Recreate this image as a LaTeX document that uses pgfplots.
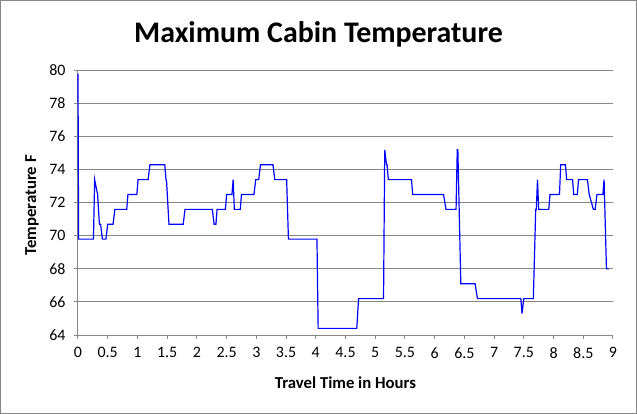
\documentclass[border=0pt]{standalone}
\usepackage{fontspec}
\setmainfont{Carlito}
\usepackage{pgfplots}
\pgfplotsset{compat=1.18}
\definecolor{gridgray}{RGB}{134,134,134}
\definecolor{lineblue}{RGB}{0,0,255}
\begin{document}
\begin{tikzpicture}
\begin{axis}[
  scale only axis,
  width=535bp, height=264.5bp,
  at={(0,0)}, anchor=south west,
  xmin=0, xmax=9, ymin=64, ymax=80,
  xtick={0,0.5,...,9}, ytick={64,66,...,80},
  axis x line*=bottom, axis y line*=left,
  axis line style={gridgray, line width=1bp},
  ymajorgrids, grid style={gridgray, line width=1bp},
  tick align=outside, major tick length=4bp,
  tick style={gridgray, line width=1bp},
  /pgf/number format/assume math mode=true,
  ticklabel style={font=\fontsize{16}{18}\selectfont, text=black},
  xticklabel style={yshift=-5bp},
  yticklabel style={xshift=-5bp},
  xlabel={\textbf{Travel Time in Hours}},
  ylabel={\textbf{Temperature F}},
  label style={font=\fontsize{16.8}{19}\selectfont},
  xlabel style={at={(axis description cs:0.5,-0.181)}, anchor=center},
  ylabel style={at={(axis description cs:-0.086,0.49)}, anchor=center, rotate=0},
  clip=false,
]
\addplot[lineblue, line width=1.2bp] coordinates {
(0,79.8) (0.01,69.8) (0.26,69.8) (0.28,73.4) (0.33,72.5) (0.36,70.7)
(0.38,70.7) (0.41,69.8) (0.47,69.8) (0.50,70.7) (0.59,70.7) (0.62,71.6)
(0.82,71.6) (0.84,72.5) (0.99,72.5) (1.01,73.4) (1.18,73.4) (1.21,74.3)
(1.46,74.3) (1.48,73.4) (1.49,73.3) (1.53,70.7) (1.77,70.7) (1.80,71.6)
(2.26,71.6) (2.29,70.7) (2.32,70.7) (2.34,71.6) (2.48,71.6) (2.50,72.5)
(2.59,72.5) (2.61,73.4) (2.63,71.6) (2.73,71.6) (2.75,72.5) (2.96,72.5)
(2.99,73.4) (3.04,73.4) (3.07,74.3) (3.28,74.3) (3.31,73.4) (3.51,73.4)
(3.54,69.8) (4.02,69.8) (4.04,64.4) (4.69,64.4) (4.72,66.2) (5.14,66.2)
(5.16,75.2) (5.19,74.3) (5.20,74.3) (5.22,73.4) (5.61,73.4) (5.63,72.5)
(6.15,72.5) (6.19,71.6) (6.36,71.6) (6.38,75.2) (6.39,75.2) (6.44,67.1)
(6.68,67.1) (6.72,66.2) (7.45,66.2) (7.47,65.3) (7.50,66.2) (7.66,66.2)
(7.70,71.6) (7.71,71.6) (7.73,73.4) (7.75,71.6) (7.92,71.6) (7.94,72.5)
(8.10,72.5) (8.12,74.3) (8.20,74.3) (8.22,73.4) (8.32,73.4) (8.34,72.5)
(8.40,72.5) (8.42,73.4) (8.57,73.4) (8.60,72.5) (8.67,71.6) (8.70,71.6)
(8.73,72.5) (8.83,72.5) (8.85,73.4) (8.89,68.0) (8.93,68.0)
};
\end{axis}
\node[font=\fontsize{30}{34}\selectfont\bfseries, anchor=base] at (240.5bp,292bp) {Maximum Cabin Temperature};
\draw[gridgray, line width=1bp] (-77.5bp,-78.5bp) rectangle (558.5bp,334.5bp);
\end{tikzpicture}
\end{document}
